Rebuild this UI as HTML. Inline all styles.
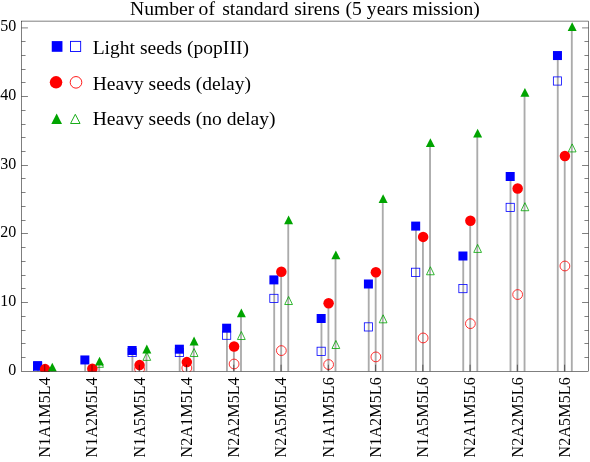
<!DOCTYPE html>
<html><head><meta charset="utf-8"><title>Number of standard sirens</title>
<style>html,body{margin:0;padding:0;background:#fff}body{width:590px;height:462px;overflow:hidden}svg{display:block;will-change:transform;font-family:"Liberation Serif",serif;fill:#000}</style></head><body>
<svg width="590" height="462" viewBox="0 0 590 462">
<defs><clipPath id="c"><rect x="21.55" y="21.09" width="566.9" height="350.71"/></clipPath></defs>
<text y="14.5" font-size="19.6"><tspan x="130">Number</tspan><tspan x="198.6">of</tspan><tspan x="222.2">standard</tspan><tspan x="294.2">sirens</tspan><tspan x="345.6">(5</tspan><tspan x="366.85">years</tspan><tspan x="412.4">mission)</tspan></text>
<g clip-path="url(#c)">
<g stroke="#ababab" stroke-width="1.85" fill="none">
<line x1="37.9" y1="371.3" x2="37.9" y2="365.6"/>
<line x1="44.85" y1="371.3" x2="44.85" y2="369.1"/>
<line x1="51.95" y1="371.3" x2="51.95" y2="367.2"/>
<line x1="85.16" y1="371.3" x2="85.16" y2="359.95"/>
<line x1="92.11" y1="371.3" x2="92.11" y2="368.8"/>
<line x1="99.21" y1="371.3" x2="99.21" y2="361.1"/>
<line x1="132.42" y1="371.3" x2="132.42" y2="350.5"/>
<line x1="139.37" y1="371.3" x2="139.37" y2="365.1"/>
<line x1="146.47" y1="371.3" x2="146.47" y2="349.05"/>
<line x1="179.68" y1="371.3" x2="179.68" y2="349.2"/>
<line x1="186.63" y1="371.3" x2="186.63" y2="362.1"/>
<line x1="193.73" y1="371.3" x2="193.73" y2="341"/>
<line x1="226.94" y1="371.3" x2="226.94" y2="328.2"/>
<line x1="233.89" y1="371.3" x2="233.89" y2="346.5"/>
<line x1="240.99" y1="371.3" x2="240.99" y2="312.8"/>
<line x1="274.2" y1="371.3" x2="274.2" y2="279.9"/>
<line x1="281.15" y1="371.3" x2="281.15" y2="271.8"/>
<line x1="288.25" y1="371.3" x2="288.25" y2="219.8"/>
<line x1="321.46" y1="371.3" x2="321.46" y2="318.5"/>
<line x1="328.41" y1="371.3" x2="328.41" y2="303.3"/>
<line x1="335.51" y1="371.3" x2="335.51" y2="254.8"/>
<line x1="368.72" y1="371.3" x2="368.72" y2="284"/>
<line x1="375.67" y1="371.3" x2="375.67" y2="272.3"/>
<line x1="382.77" y1="371.3" x2="382.77" y2="198.7"/>
<line x1="415.98" y1="371.3" x2="415.98" y2="226.1"/>
<line x1="422.93" y1="371.3" x2="422.93" y2="236.9"/>
<line x1="430.03" y1="371.3" x2="430.03" y2="142.6"/>
<line x1="463.24" y1="371.3" x2="463.24" y2="256"/>
<line x1="470.19" y1="371.3" x2="470.19" y2="220.8"/>
<line x1="477.29" y1="371.3" x2="477.29" y2="133.2"/>
<line x1="510.5" y1="371.3" x2="510.5" y2="176.5"/>
<line x1="517.45" y1="371.3" x2="517.45" y2="188.5"/>
<line x1="524.55" y1="371.3" x2="524.55" y2="92.4"/>
<line x1="557.76" y1="371.3" x2="557.76" y2="55.55"/>
<line x1="564.71" y1="371.3" x2="564.71" y2="156"/>
<line x1="571.81" y1="371.3" x2="571.81" y2="26.6"/>
</g>
<rect x="33.5" y="362.45" width="8.2" height="8.2" fill="none" stroke="#0000ff" stroke-width="0.8"/>
<path d="M99.56 359.3L103.45 367.32L95.67 367.32Z" fill="none" stroke="#00a400" stroke-width="0.8" stroke-linejoin="miter"/>
<rect x="128.02" y="348.4" width="8.2" height="8.2" fill="none" stroke="#0000ff" stroke-width="0.8"/>
<circle cx="139.57" cy="369" r="4.9" fill="none" stroke="#ff0000" stroke-width="0.8"/>
<path d="M146.82 352.35L150.71 360.37L142.93 360.37Z" fill="none" stroke="#00a400" stroke-width="0.8" stroke-linejoin="miter"/>
<rect x="175.28" y="348.4" width="8.2" height="8.2" fill="none" stroke="#0000ff" stroke-width="0.8"/>
<circle cx="186.83" cy="368" r="4.9" fill="none" stroke="#ff0000" stroke-width="0.8"/>
<path d="M194.08 348.5L197.97 356.52L190.19 356.52Z" fill="none" stroke="#00a400" stroke-width="0.8" stroke-linejoin="miter"/>
<rect x="222.54" y="331.1" width="8.2" height="8.2" fill="none" stroke="#0000ff" stroke-width="0.8"/>
<circle cx="234.09" cy="364" r="4.9" fill="none" stroke="#ff0000" stroke-width="0.8"/>
<path d="M241.34 331.5L245.23 339.52L237.45 339.52Z" fill="none" stroke="#00a400" stroke-width="0.8" stroke-linejoin="miter"/>
<rect x="269.8" y="294.3" width="8.2" height="8.2" fill="none" stroke="#0000ff" stroke-width="0.8"/>
<circle cx="281.35" cy="350.6" r="4.9" fill="none" stroke="#ff0000" stroke-width="0.8"/>
<path d="M288.6 296.5L292.49 304.52L284.71 304.52Z" fill="none" stroke="#00a400" stroke-width="0.8" stroke-linejoin="miter"/>
<rect x="317.06" y="347.2" width="8.2" height="8.2" fill="none" stroke="#0000ff" stroke-width="0.8"/>
<circle cx="328.61" cy="364.55" r="4.9" fill="none" stroke="#ff0000" stroke-width="0.8"/>
<path d="M335.86 340.5L339.75 348.52L331.97 348.52Z" fill="none" stroke="#00a400" stroke-width="0.8" stroke-linejoin="miter"/>
<rect x="364.32" y="322.8" width="8.2" height="8.2" fill="none" stroke="#0000ff" stroke-width="0.8"/>
<circle cx="375.87" cy="356.9" r="4.9" fill="none" stroke="#ff0000" stroke-width="0.8"/>
<path d="M383.12 314.8L387.01 322.82L379.23 322.82Z" fill="none" stroke="#00a400" stroke-width="0.8" stroke-linejoin="miter"/>
<rect x="411.58" y="268.2" width="8.2" height="8.2" fill="none" stroke="#0000ff" stroke-width="0.8"/>
<circle cx="423.13" cy="337.95" r="4.9" fill="none" stroke="#ff0000" stroke-width="0.8"/>
<path d="M430.38 266.75L434.27 274.77L426.49 274.77Z" fill="none" stroke="#00a400" stroke-width="0.8" stroke-linejoin="miter"/>
<rect x="458.84" y="284.5" width="8.2" height="8.2" fill="none" stroke="#0000ff" stroke-width="0.8"/>
<circle cx="470.39" cy="323.65" r="4.9" fill="none" stroke="#ff0000" stroke-width="0.8"/>
<path d="M477.64 244.4L481.53 252.42L473.75 252.42Z" fill="none" stroke="#00a400" stroke-width="0.8" stroke-linejoin="miter"/>
<rect x="506.1" y="203.3" width="8.2" height="8.2" fill="none" stroke="#0000ff" stroke-width="0.8"/>
<circle cx="517.65" cy="294.55" r="4.9" fill="none" stroke="#ff0000" stroke-width="0.8"/>
<path d="M524.9 202.7L528.79 210.72L521.01 210.72Z" fill="none" stroke="#00a400" stroke-width="0.8" stroke-linejoin="miter"/>
<rect x="553.36" y="76.9" width="8.2" height="8.2" fill="none" stroke="#0000ff" stroke-width="0.8"/>
<circle cx="564.91" cy="266" r="4.9" fill="none" stroke="#ff0000" stroke-width="0.8"/>
<path d="M572.16 143.9L576.05 151.92L568.27 151.92Z" fill="none" stroke="#00a400" stroke-width="0.8" stroke-linejoin="miter"/>
<rect x="33.1" y="361.1" width="9" height="9" fill="#0000ff"/>
<circle cx="45.05" cy="369.1" r="5.25" fill="#ff0000"/>
<path d="M52.3 362.77L56.8 371.62L47.8 371.62Z" fill="#00a400"/>
<rect x="80.36" y="355.45" width="9" height="9" fill="#0000ff"/>
<circle cx="92.31" cy="368.8" r="5.25" fill="#ff0000"/>
<path d="M99.56 356.68L104.06 365.53L95.06 365.53Z" fill="#00a400"/>
<rect x="127.62" y="346" width="9" height="9" fill="#0000ff"/>
<circle cx="139.57" cy="365.1" r="5.25" fill="#ff0000"/>
<path d="M146.82 344.62L151.32 353.48L142.32 353.48Z" fill="#00a400"/>
<rect x="174.88" y="344.7" width="9" height="9" fill="#0000ff"/>
<circle cx="186.83" cy="362.1" r="5.25" fill="#ff0000"/>
<path d="M194.08 336.57L198.58 345.43L189.58 345.43Z" fill="#00a400"/>
<rect x="222.14" y="323.7" width="9" height="9" fill="#0000ff"/>
<circle cx="234.09" cy="346.5" r="5.25" fill="#ff0000"/>
<path d="M241.34 308.38L245.84 317.23L236.84 317.23Z" fill="#00a400"/>
<rect x="269.4" y="275.4" width="9" height="9" fill="#0000ff"/>
<circle cx="281.35" cy="271.8" r="5.25" fill="#ff0000"/>
<path d="M288.6 215.38L293.1 224.23L284.1 224.23Z" fill="#00a400"/>
<rect x="316.66" y="314" width="9" height="9" fill="#0000ff"/>
<circle cx="328.61" cy="303.3" r="5.25" fill="#ff0000"/>
<path d="M335.86 250.38L340.36 259.23L331.36 259.23Z" fill="#00a400"/>
<rect x="363.92" y="279.5" width="9" height="9" fill="#0000ff"/>
<circle cx="375.87" cy="272.3" r="5.25" fill="#ff0000"/>
<path d="M383.12 194.27L387.62 203.12L378.62 203.12Z" fill="#00a400"/>
<rect x="411.18" y="221.6" width="9" height="9" fill="#0000ff"/>
<circle cx="423.13" cy="236.9" r="5.25" fill="#ff0000"/>
<path d="M430.38 138.17L434.88 147.03L425.88 147.03Z" fill="#00a400"/>
<rect x="458.44" y="251.5" width="9" height="9" fill="#0000ff"/>
<circle cx="470.39" cy="220.8" r="5.25" fill="#ff0000"/>
<path d="M477.64 128.77L482.14 137.62L473.14 137.62Z" fill="#00a400"/>
<rect x="505.7" y="172" width="9" height="9" fill="#0000ff"/>
<circle cx="517.65" cy="188.5" r="5.25" fill="#ff0000"/>
<path d="M524.9 87.98L529.4 96.83L520.4 96.83Z" fill="#00a400"/>
<rect x="552.96" y="51.05" width="9" height="9" fill="#0000ff"/>
<circle cx="564.91" cy="156" r="5.25" fill="#ff0000"/>
<path d="M572.16 22.18L576.66 31.03L567.66 31.03Z" fill="#00a400"/>
</g>
<g stroke="#000" stroke-width="0.5" fill="none">
<rect x="21.55" y="21.09" width="566.9" height="350.21"/>
<path d="M21.55 357.5h4M588.45 357.5h-4M21.55 343.5h4M588.45 343.5h-4M21.55 330.5h4M588.45 330.5h-4M21.55 316.5h4M588.45 316.5h-4M21.55 302.5h6.4M588.45 302.5h-6.4M21.55 288.5h4M588.45 288.5h-4M21.55 275.5h4M588.45 275.5h-4M21.55 261.5h4M588.45 261.5h-4M21.55 247.5h4M588.45 247.5h-4M21.55 233.5h6.4M588.45 233.5h-6.4M21.55 220.5h4M588.45 220.5h-4M21.55 206.5h4M588.45 206.5h-4M21.55 192.5h4M588.45 192.5h-4M21.55 178.5h4M588.45 178.5h-4M21.55 165.5h6.4M588.45 165.5h-6.4M21.55 151.5h4M588.45 151.5h-4M21.55 137.5h4M588.45 137.5h-4M21.55 124.5h4M588.45 124.5h-4M21.55 110.5h4M588.45 110.5h-4M21.55 96.5h6.4M588.45 96.5h-6.4M21.55 82.5h4M588.45 82.5h-4M21.55 69.5h4M588.45 69.5h-4M21.55 55.5h4M588.45 55.5h-4M21.55 41.5h4M588.45 41.5h-4M21.55 27.9h6.4M588.45 27.9h-6.4M44.75 371.3v-6.6M92.01 371.3v-6.6M139.27 371.3v-6.6M186.53 371.3v-6.6M233.79 371.3v-6.6M281.05 371.3v-6.6M328.31 371.3v-6.6M375.57 371.3v-6.6M422.83 371.3v-6.6M470.09 371.3v-6.6M517.35 371.3v-6.6M564.61 371.3v-6.6"/>
</g>
<g font-size="16" text-anchor="end">
<text x="16.2" y="374.6">0</text>
<text x="16.2" y="305.92">10</text>
<text x="16.2" y="237.24">20</text>
<text x="16.2" y="168.56">30</text>
<text x="16.2" y="99.88">40</text>
<text x="16.2" y="31.2">50</text>
</g>
<g font-size="16" letter-spacing="0.17">
<text transform="translate(50.15 457.5) rotate(-90)">N1A1M5L4</text>
<text transform="translate(97.41 457.5) rotate(-90)">N1A2M5L4</text>
<text transform="translate(144.67 457.5) rotate(-90)">N1A5M5L4</text>
<text transform="translate(191.93 457.5) rotate(-90)">N2A1M5L4</text>
<text transform="translate(239.19 457.5) rotate(-90)">N2A2M5L4</text>
<text transform="translate(286.45 457.5) rotate(-90)">N2A5M5L4</text>
<text transform="translate(333.71 457.5) rotate(-90)">N1A1M5L6</text>
<text transform="translate(380.97 457.5) rotate(-90)">N1A2M5L6</text>
<text transform="translate(428.23 457.5) rotate(-90)">N1A5M5L6</text>
<text transform="translate(475.49 457.5) rotate(-90)">N2A1M5L6</text>
<text transform="translate(522.75 457.5) rotate(-90)">N2A2M5L6</text>
<text transform="translate(570.01 457.5) rotate(-90)">N2A5M5L6</text>
</g>
<rect x="51.75" y="41.1" width="10.7" height="10.7" fill="#0000ff"/>
<rect x="70.52" y="41.38" width="10.15" height="10.15" fill="none" stroke="#0000ff" stroke-width="0.9"/>
<circle cx="56.05" cy="82.35" r="6.25" fill="#ff0000"/>
<circle cx="76" cy="82.35" r="5.8" fill="none" stroke="#ff0000" stroke-width="0.9"/>
<path d="M56.65 113.4L62 124L51.3 124Z" fill="#00a400"/>
<path d="M75.3 114.3L80.05 123.5L70.55 123.5Z" fill="none" stroke="#00a400" stroke-width="0.9"/>
<g font-size="19.55">
<text x="92.7" y="54.1">Light seeds (popIII)</text>
<text x="92.7" y="90">Heavy seeds (delay)</text>
<text x="92.7" y="125.3">Heavy seeds (no delay)</text>
</g>
</svg></body></html>
